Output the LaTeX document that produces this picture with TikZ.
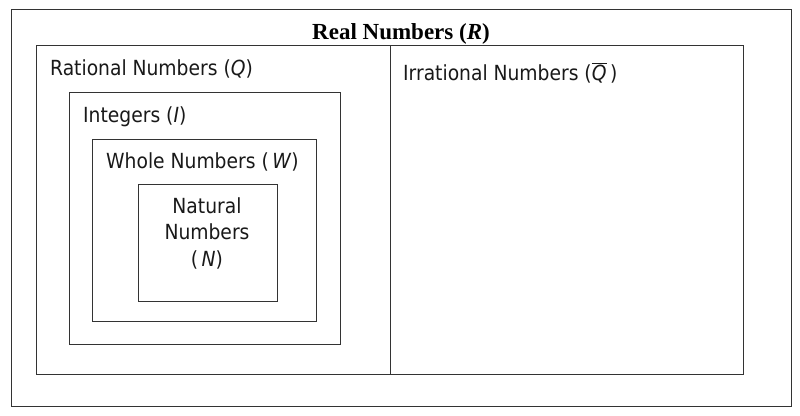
\documentclass[tikz,border=0pt]{standalone}
\usepackage{fontspec}
\setmainfont{Liberation Serif}
\newfontfamily\boxfont{DejaVu Sans Condensed}
\begin{document}
\begin{tikzpicture}[x=1pt,y=-1pt,
  setbox/.style={draw=black!80,line width=1.3pt,inner sep=0pt,anchor=north west},
  lbl/.style={inner sep=0pt,anchor=base west,font=\boxfont\fontsize{20.8}{26.5}\selectfont,text=black!90},
  ttl/.style={inner sep=0pt,anchor=base,font=\fontsize{23}{26}\selectfont\bfseries}]
\useasboundingbox (0,0) rectangle (800,415);
\fill[white] (0,0) rectangle (800,415);
% boxes
\node[setbox,minimum width=780pt,minimum height=397pt] (real) at (11,9) {};
\node[setbox,minimum width=354pt,minimum height=329pt] (rat) at (36,45) {};
\node[setbox,minimum width=353pt,minimum height=329pt] (irr) at (390,45) {};
\node[setbox,minimum width=271pt,minimum height=252pt] (int) at (69,92) {};
\node[setbox,minimum width=224pt,minimum height=182pt] (whole) at (92,139) {};
\node[setbox,minimum width=139pt,minimum height=117pt] (nat) at (138,184) {};
% labels
\node[ttl] (treal) at (401,39) {Real Numbers (\textit{R})};
\node[lbl] (trat) at (50,75) {Rational Numbers (\textit{Q})};
\node[lbl] (tirr) at (403,80) {Irrational Numbers ($\overline{\mbox{\textit{Q}}}$\,)};
\node[lbl] (tint) at (83,122) {Integers (\textit{I})};
\node[lbl] (twhole) at (106,168) {Whole Numbers (\,\textit{W})};
\node[lbl,anchor=center,align=center] (tnat) at (207,233) {Natural\\Numbers\\(\,\textit{N})};
\end{tikzpicture}
\end{document}
